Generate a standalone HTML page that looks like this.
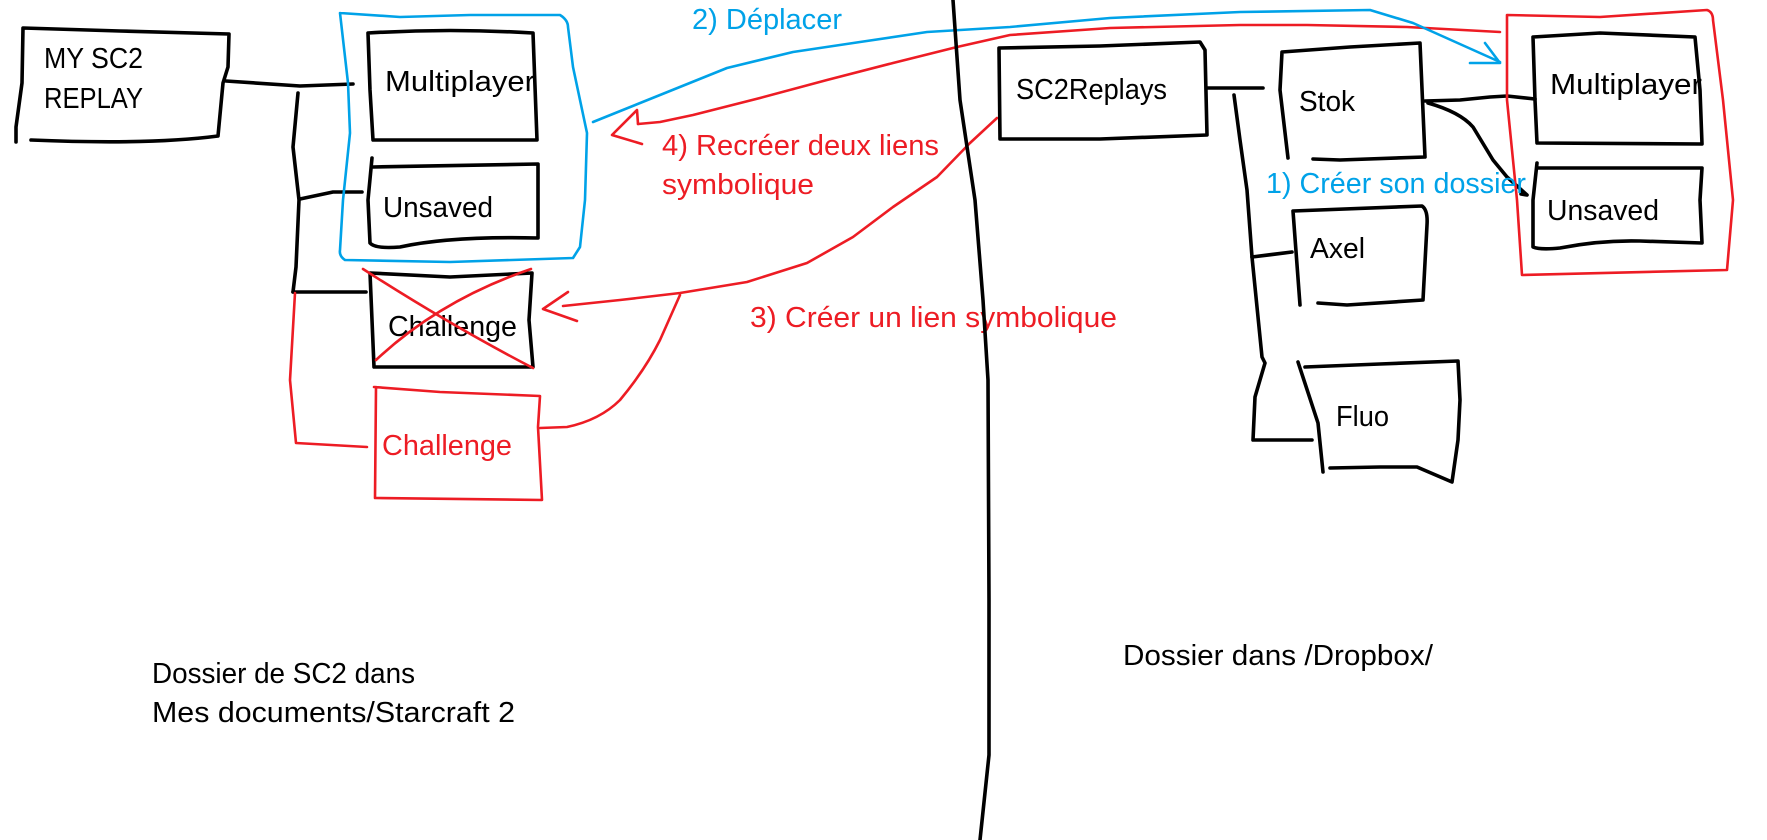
<!DOCTYPE html>
<html>
<head>
<meta charset="utf-8">
<style>
html,body{margin:0;padding:0;background:#fff;}
svg{display:block;}
text{font-family:"Liberation Sans",sans-serif;font-size:29px;}
.k{fill:none;stroke:#000;stroke-width:3.6;stroke-linecap:round;stroke-linejoin:round;}
.r{fill:none;stroke:#ED1C24;stroke-width:2.6;stroke-linecap:round;stroke-linejoin:round;}
.b{fill:none;stroke:#00A2E8;stroke-width:2.6;stroke-linecap:round;stroke-linejoin:round;}
.tk{fill:#000;}
.tr{fill:#ED1C24;}
.tb{fill:#00A2E8;}
</style>
</head>
<body>
<svg width="1767" height="840" viewBox="0 0 1767 840" xmlns="http://www.w3.org/2000/svg">
<rect width="1767" height="840" fill="#fff"/>

<!-- ===== LEFT SIDE ===== -->
<!-- MY SC2 REPLAY box -->
<path class="k" d="M16,142 L16,127 L22,83 L23,28 L120,31 L229,34 L228,67 L223,83 L218,136 Q150,145 31,140"/>
<text class="tk" x="44" y="68" textLength="99" lengthAdjust="spacingAndGlyphs">MY SC2</text>
<text class="tk" x="44" y="108" textLength="99" lengthAdjust="spacingAndGlyphs">REPLAY</text>

<!-- connectors -->
<path class="k" d="M226,81 L300,86 L353,84"/>
<path class="k" d="M298,93 L293,147 L299,200 L296,267 L293,292"/>
<path class="k" d="M300,199 L333,192 L362,192"/>
<path class="k" d="M293,292 L366,292"/>

<!-- Multiplayer left box -->
<path class="k" d="M368,33 Q450,28 533,33 L537,140 L373,140 L370,90 L368,33"/>
<text class="tk" x="385" y="91" textLength="150" lengthAdjust="spacingAndGlyphs">Multiplayer</text>

<!-- Unsaved left box -->
<path class="k" d="M372,158 L368,200 L370,243 Q375,249 400,247 Q450,236 538,238 L538,164 L373,167"/>
<text class="tk" x="383" y="217" textLength="110" lengthAdjust="spacingAndGlyphs">Unsaved</text>

<!-- Blue frame -->
<path class="b" d="M340,13 L400,17 L470,15 L560,15 Q568,20 568,27 L573,67 L587,133 L585,200 L580,247 L573,258 L450,262 L345,260 Q339,256 340,250 L343,200 L350,133 L348,83 L340,13"/>

<!-- Challenge (black, crossed) -->
<path class="k" d="M370,273 L450,277 L532,273 L529,320 L533,367 L374,367 L370,273"/>
<text class="tk" x="388" y="336" textLength="129" lengthAdjust="spacingAndGlyphs">Challenge</text>
<path class="r" d="M363,269 Q450,325 533,368"/>
<path class="r" d="M376,360 Q440,300 531,269"/>

<!-- red connector to new Challenge -->
<path class="r" d="M295,293 L290,380 L296,443 L367,447"/>

<!-- Challenge red box -->
<path class="r" d="M374,387 L440,392 L540,396 L538,427 L542,500 L375,498 L376,387"/>
<text class="tr" x="382" y="455" textLength="130" lengthAdjust="spacingAndGlyphs">Challenge</text>

<!-- red curve from red box to main curve -->
<path class="r" d="M540,428 L567,427 Q600,420 620,400 Q645,370 660,340 L680,295"/>

<!-- curve 3 (symlink) with arrow -->
<path class="r" d="M997,118 L970,143 L937,177 L893,207 L853,237 L807,263 L747,282 L680,293 L620,300 L563,306"/>
<path class="r" d="M568,292 L543,309 L577,321"/>

<!-- red line 4 with triangle arrow -->
<path class="r" d="M1500,32 L1407,27 L1307,25 L1240,25 L1110,28 L1010,35 L957,47 L893,63 L827,80 L760,98 L693,115 L660,122 L638,124"/>
<path class="r" d="M642,144 L612,135 L637,110 L638,124"/>

<!-- blue line 2 with arrow -->
<path class="b" d="M593,122 L660,95 L727,68 L793,52 L860,42 L927,32 L1010,27 L1110,18 L1240,12 L1370,10 L1413,23 L1500,62"/>
<path class="b" d="M1485,43 L1500,63 L1470,63"/>

<!-- labels -->
<text class="tb" x="692" y="29" textLength="150" lengthAdjust="spacingAndGlyphs">2) Déplacer</text>
<text class="tr" x="662" y="155" textLength="277" lengthAdjust="spacingAndGlyphs">4) Recréer deux liens</text>
<text class="tr" x="662" y="194" textLength="152" lengthAdjust="spacingAndGlyphs">symbolique</text>
<text class="tr" x="750" y="327" textLength="367" lengthAdjust="spacingAndGlyphs">3) Créer un lien symbolique</text>

<text class="tk" x="152" y="683" textLength="263" lengthAdjust="spacingAndGlyphs">Dossier de SC2 dans</text>
<text class="tk" x="152" y="722" textLength="363" lengthAdjust="spacingAndGlyphs">Mes documents/Starcraft 2</text>

<!-- big vertical divider -->
<path class="k" d="M953,0 L960,100 L975,200 L983,300 L988,380 L989,600 L989,755 L980,840"/>

<!-- ===== RIGHT SIDE ===== -->
<!-- SC2Replays -->
<path class="k" d="M999,48 L1100,46 L1200,42 L1205,50 L1207,135 L1100,139 L1000,139 L999,48"/>
<text class="tk" x="1016" y="99" textLength="151" lengthAdjust="spacingAndGlyphs">SC2Replays</text>

<path class="k" d="M1207,88 L1263,88"/>
<path class="k" d="M1234,95 L1240,140 L1247,190 L1252,257 L1262,357 L1265,363 L1255,397 L1253,440 L1312,440"/>
<path class="k" d="M1252,257 L1292,252"/>

<!-- Stok -->
<path class="k" d="M1288,158 L1280,90 L1282,52 L1350,47 L1420,43 L1425,157 L1340,160 L1313,159"/>
<text class="tk" x="1299" y="111" textLength="56" lengthAdjust="spacingAndGlyphs">Stok</text>

<path class="k" d="M1425,101 L1460,100 L1490,97 L1507,96 L1535,99"/>
<path class="k" d="M1428,103 Q1460,112 1473,127 L1493,160 L1507,177 L1527,195 L1521,194"/>

<!-- Axel -->
<path class="k" d="M1300,305 L1293,211 L1422,206 Q1428,210 1427,225 L1423,300 L1347,305 L1318,303"/>
<text class="tk" x="1310" y="258" textLength="55" lengthAdjust="spacingAndGlyphs">Axel</text>

<!-- Fluo -->
<path class="k" d="M1298,362 L1318,423 L1323,472"/>
<path class="k" d="M1330,468 L1380,467 L1417,467 L1452,482 L1458,440 L1460,400 L1458,361 L1380,364 L1305,367"/>
<text class="tk" x="1336" y="426" textLength="53" lengthAdjust="spacingAndGlyphs">Fluo</text>

<!-- Right Multiplayer -->
<path class="k" d="M1533,37 L1600,33 L1695,37 L1700,90 L1702,144 L1537,143 L1535,100 L1533,37"/>
<text class="tk" x="1550" y="94" textLength="152" lengthAdjust="spacingAndGlyphs">Multiplayer</text>

<!-- Right Unsaved -->
<path class="k" d="M1537,163 L1533,200 L1533,247 Q1540,250 1560,248 Q1600,240 1640,241 L1702,243 L1700,200 L1702,168 L1537,168"/>
<text class="tk" x="1547" y="220" textLength="112" lengthAdjust="spacingAndGlyphs">Unsaved</text>

<!-- Red frame right -->
<path class="r" d="M1507,15 L1600,17 L1707,10 Q1713,12 1713,20 L1723,100 L1733,200 L1727,270 L1522,275 L1517,200 L1507,100 L1507,15"/>

<text class="tb" x="1266" y="193" textLength="260" lengthAdjust="spacingAndGlyphs">1) Créer son dossier</text>

<text class="tk" x="1123" y="665" textLength="310" lengthAdjust="spacingAndGlyphs">Dossier dans /Dropbox/</text>
</svg>
</body>
</html>
